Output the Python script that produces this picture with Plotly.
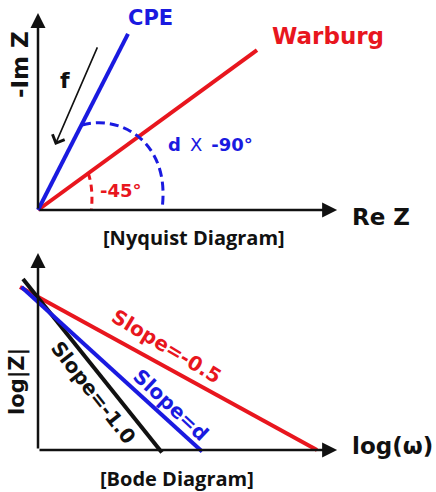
import plotly.graph_objects as go

W, H = 436, 492
RED = "#e8161e"
BLUE = "#1a1ae0"
INK = "#111111"
FONT = "DejaVu Sans"

# ---- Nyquist diagram (Re Z, -Im Z) ----
cpe_re = [0.0, 3.0]
cpe_im = [0.0, 5.87]
warburg_re = [0.0, 7.3]
warburg_im = [0.0, 5.33]
nyq_tip = [9.97, 6.57]          # arrow tips of Re Z / -Im Z axes

# ---- Bode diagram (log w, log|Z|) ----
bode_warburg_x = [-0.6, 9.3]
bode_warburg_y = [5.43, 0.0]
bode_cpe_x = [-0.55, 5.47]
bode_cpe_y = [5.43, -0.05]
bode_cap_x = [-0.5, 4.13]
bode_cap_y = [5.7, -0.08]
bode_tip = [9.97, 6.57]

# pixel layout: origin of each panel, 30 px per unit
S = 30.0
OX = 38
TOP_OY, BOT_OY = 210, 450
SPLIT = 245
xr = [-OX / S, (W - OX) / S]
yr_top = [(TOP_OY - SPLIT) / S, TOP_OY / S]
yr_bot = [(BOT_OY - H) / S, (BOT_OY - SPLIT) / S]


def line(x, y, col, ax="x", ay="y"):
    return go.Scatter(x=x, y=y, mode="lines", xaxis=ax, yaxis=ay,
                      line=dict(color=col, width=4), hoverinfo="skip")


fig = go.Figure([
    line(warburg_re, warburg_im, RED),
    line(cpe_re, cpe_im, BLUE),
    line(bode_warburg_x, bode_warburg_y, RED, "x2", "y2"),
    line(bode_cap_x, bode_cap_y, INK, "x2", "y2"),
    line(bode_cpe_x, bode_cpe_y, BLUE, "x2", "y2"),
])


def axis_arrow(x, y, xref, yref):
    return dict(x=x, y=y, ax=0, ay=0, xref=xref, yref=yref, axref=xref, ayref=yref,
                text="", showarrow=True, arrowhead=2, arrowsize=1.2, arrowwidth=2.5,
                arrowcolor=INK, standoff=0, startstandoff=0)


def label(txt, px, py, size, col=INK, angle=0, weight="bold", family=FONT):
    return dict(text=txt, x=px / W, y=1 - py / H, xref="paper", yref="paper",
                xanchor="center", yanchor="middle", showarrow=False, textangle=angle,
                font=dict(family=family, size=size, color=col, weight=weight))


ann = [
    axis_arrow(nyq_tip[0], 0, "x", "y"),
    axis_arrow(0, nyq_tip[1], "x", "y"),
    axis_arrow(bode_tip[0], 0, "x2", "y2"),
    axis_arrow(0, bode_tip[1], "x2", "y2"),
    # frequency arrow
    dict(x=0.57, y=2.17, ax=2.0, ay=5.47, xref="x", yref="y", axref="x", ayref="y",
         text="", showarrow=True, arrowhead=4, arrowsize=1.6, arrowwidth=1.6,
         arrowcolor=INK, standoff=0),
    label("CPE", 150, 18, 21, BLUE),
    label("Warburg", 328, 36, 23, RED),
    label("f", 65, 80, 22),
    label("<b>d</b>\u2002X\u2002<b>-90°</b>", 210, 144, 18, BLUE, weight="normal"),
    label("-45°", 121, 190, 18, RED),
    label("Re Z", 381, 217, 23),
    label("-Im Z", 20, 65, 23, angle=-90),
    label("[Nyquist Diagram]", 194, 237, 20, family="Open Sans"),
    label("Slope=-0.5", 166, 346, 20, RED, angle=31),
    label("Slope=d", 171, 405, 20, BLUE, angle=43),
    label("Slope=-1.0", 93, 392, 20, INK, angle=52),
    label("log|Z|", 17, 382, 21, angle=-90),
    label("log(ω)", 392, 446, 23),
    label("[Bode Diagram]", 177, 478, 20, family="Open Sans"),
]

shapes = [
    dict(type="path", xref="x", yref="y", path="M 1.47,2.83 C 2.7,3.2 4.45,2.3 4.13,0",
         line=dict(color=BLUE, width=3, dash="9px,5px")),
    dict(type="path", xref="x", yref="y", path="M 1.67,1.23 C 1.8,0.9 1.82,0.4 1.78,0",
         line=dict(color=RED, width=3, dash="7px,5px")),
]

hidden = dict(visible=False, fixedrange=True)
fig.update_layout(
    width=W, height=H, margin=dict(l=0, r=0, t=0, b=0),
    paper_bgcolor="white", plot_bgcolor="white", showlegend=False,
    xaxis=dict(domain=[0, 1], range=xr, anchor="y", **hidden),
    yaxis=dict(domain=[1 - SPLIT / H, 1], range=yr_top, anchor="x", **hidden),
    xaxis2=dict(domain=[0, 1], range=xr, anchor="y2", **hidden),
    yaxis2=dict(domain=[0, 1 - SPLIT / H], range=yr_bot, anchor="x2", **hidden),
    annotations=ann, shapes=shapes,
)

# page body has a default 8px margin; drop it so the figure sits at the corner
fig.write_html("out.html", config={"displayModeBar": False},
               post_script="document.body.style.margin='0';")
